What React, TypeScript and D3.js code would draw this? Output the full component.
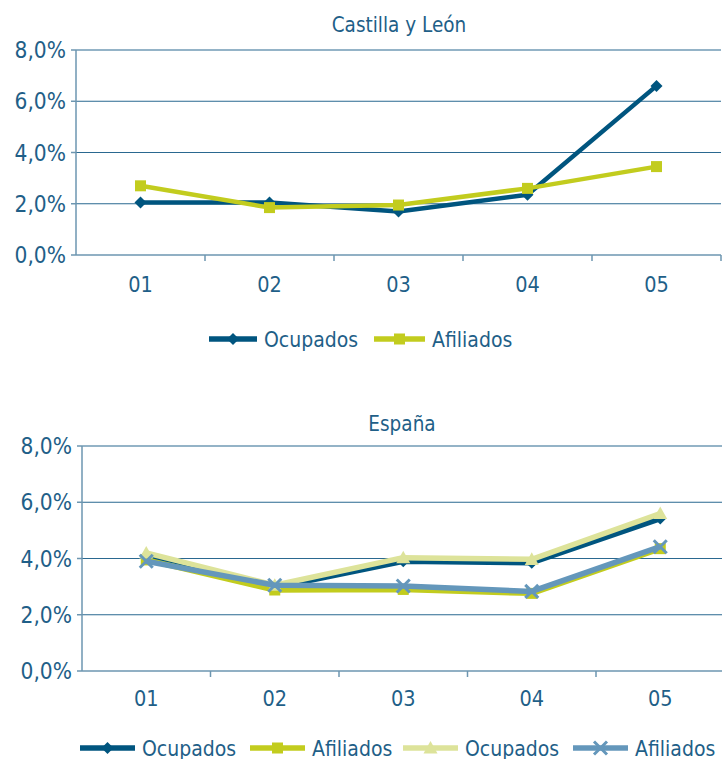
import React from "react";
import * as d3 from "d3";

const categories = ["01", "02", "03", "04", "05"];
const yTicks = [0, 2, 4, 6, 8];

const clOcupados = [2.05, 2.05, 1.7, 2.35, 6.6];
const clAfiliados = [2.7, 1.85, 1.95, 2.6, 3.45];

const esOcupadosA = [4.1, 2.97, 3.9, 3.85, 5.42];
const esAfiliadosA = [3.95, 2.88, 2.9, 2.76, 4.35];
const esOcupadosB = [4.2, 3.05, 4.03, 3.97, 5.6];
const esAfiliadosB = [3.9, 3.05, 3.02, 2.83, 4.42];

const TEXT = "#1f5f88";
const GRID = "#2a6890";
const AXIS = "#6d96b0";
const DARK = "#00557f";
const LIME = "#c2cc1e";
const PALE = "#dde39a";
const STEEL = "#6497bb";
const FONT = "'Liberation Sans Narrow', 'DejaVu Sans Condensed', 'Roboto Condensed', sans-serif";

type Series = { name: string; values: number[]; color: string; marker: string; width: number };

function Marker({ type, x, y, color }: { type: string; x: number; y: number; color: string }) {
  if (type === "diamond") {
    const s = 6;
    return <path d={`M${x},${y - s}L${x + s},${y}L${x},${y + s}L${x - s},${y}Z`} fill={color} />;
  }
  if (type === "square") {
    const s = 5.5;
    return <rect x={x - s} y={y - s} width={2 * s} height={2 * s} fill={color} />;
  }
  if (type === "triangle") {
    const s = 7;
    return <path d={`M${x},${y - s}L${x + s},${y + s * 0.8}L${x - s},${y + s * 0.8}Z`} fill={color} />;
  }
  const s = 6.5;
  return (
    <path d={`M${x - s},${y - s}L${x + s},${y + s}M${x + s},${y - s}L${x - s},${y + s}`} stroke={color} strokeWidth={3} />
  );
}

function Panel({
  title, titleY, left, top, bottom, band, series, labelY,
}: {
  title: string; titleY: number; left: number; top: number; bottom: number; band: number; series: Series[]; labelY: number;
}) {
  const right = left + band * categories.length;
  const x = d3.scaleBand<string>().domain(categories).range([left, right]);
  const y = d3.scaleLinear().domain([0, 8]).range([bottom, top]);
  const line = d3.line<number>().x((_, i) => (x(categories[i]) as number) + x.bandwidth() / 2).y((v) => y(v));
  return (
    <g>
      <text x={(left + 722) / 2} y={titleY} textAnchor="middle" fontSize={20.5} fill={TEXT} fontFamily={FONT}>{title}</text>
      {yTicks.filter((t) => t > 0).map((t) => (
        <line key={t} x1={left} x2={right} y1={y(t)} y2={y(t)} stroke={GRID} strokeWidth={1.2} />
      ))}
      <line x1={left} x2={left} y1={top} y2={bottom} stroke={AXIS} strokeWidth={1.5} />
      <line x1={left} x2={right} y1={bottom} y2={bottom} stroke={AXIS} strokeWidth={1.5} />
      {yTicks.map((t) => (
        <g key={t}>
          <line x1={left - 5} x2={left} y1={y(t)} y2={y(t)} stroke={AXIS} strokeWidth={1.5} />
          <text x={left - 10} y={y(t) + 8} textAnchor="end" fontSize={22.5} fill={TEXT} fontFamily={FONT}>
            {t.toFixed(1).replace(".", ",")}%
          </text>
        </g>
      ))}
      {categories.map((c, i) => (
        <line key={c} x1={left + band * (i + 1)} x2={left + band * (i + 1)} y1={bottom} y2={bottom + 6} stroke={AXIS} strokeWidth={1.5} />
      ))}
      {categories.map((c) => (
        <text key={c} x={(x(c) as number) + x.bandwidth() / 2} y={labelY} textAnchor="middle" fontSize={21.5} fill={TEXT} fontFamily={FONT}>{c}</text>
      ))}
      {series.map((s) => (
        <g key={s.name + s.color}>
          <path d={line(s.values) || ""} fill="none" stroke={s.color} strokeWidth={s.width} strokeLinejoin="round" />
          {s.values.map((v, i) => (
            <Marker key={i} type={s.marker} x={(x(categories[i]) as number) + x.bandwidth() / 2} y={y(v)} color={s.color} />
          ))}
        </g>
      ))}
    </g>
  );
}

function LegendItem({ x, y, s, len }: { x: number; y: number; s: Series; len: number }) {
  return (
    <g>
      <line x1={x} x2={x + len} y1={y} y2={y} stroke={s.color} strokeWidth={5.5} />
      <Marker type={s.marker} x={x + len / 2} y={y} color={s.color} />
      <text x={x + len + 7} y={y + 7.5} fontSize={21} fill={TEXT} fontFamily={FONT}>{s.name}</text>
    </g>
  );
}

export default function App() {
  const s1: Series[] = [
    { name: "Ocupados", values: clOcupados, color: DARK, marker: "diamond", width: 4.5 },
    { name: "Afiliados", values: clAfiliados, color: LIME, marker: "square", width: 4.5 },
  ];
  const s2: Series[] = [
    { name: "Ocupados", values: esOcupadosA, color: DARK, marker: "diamond", width: 5.5 },
    { name: "Afiliados", values: esAfiliadosA, color: LIME, marker: "square", width: 5.5 },
    { name: "Ocupados", values: esOcupadosB, color: PALE, marker: "triangle", width: 5.5 },
    { name: "Afiliados", values: esAfiliadosB, color: STEEL, marker: "x", width: 5.5 },
  ];
  return (
    <svg width={722} height={759} style={{ position: "absolute", left: 0, top: 0, background: "#fff" }}>
      <rect width={722} height={759} fill="#fff" />
      <Panel title="Castilla y León" titleY={32} left={76} top={50} bottom={255} band={129} series={s1} labelY={292} />
      <LegendItem x={209} y={339} s={s1[0]} len={48} />
      <LegendItem x={374} y={339} s={s1[1]} len={51} />
      <Panel title="España" titleY={431} left={82} top={446} bottom={671} band={128.5} series={s2} labelY={706} />
      <LegendItem x={80} y={748} s={s2[0]} len={55} />
      <LegendItem x={250} y={748} s={s2[1]} len={55} />
      <LegendItem x={403} y={748} s={s2[2]} len={55} />
      <LegendItem x={573} y={748} s={s2[3]} len={55} />
    </svg>
  );
}
